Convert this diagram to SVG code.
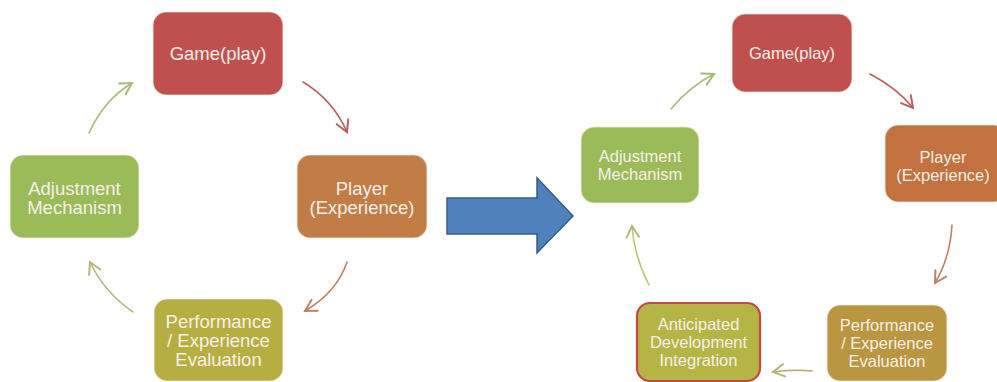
<svg xmlns="http://www.w3.org/2000/svg" width="997" height="382" viewBox="0 0 997 382">
<style>
.box{stroke:#f4efe6;stroke-width:1.2;stroke-opacity:0.7}
.t{font-family:"Liberation Sans",Arial,sans-serif;fill:#f6efe9;text-anchor:middle}
.tl{font-size:18.5px}
.tr{font-size:16.5px}
.c{fill:none;stroke-width:1.6;stroke-linecap:round}
</style>
<defs>
<marker id="mr" markerUnits="userSpaceOnUse" markerWidth="20" markerHeight="20" refX="0" refY="0" viewBox="-12 -8 14 16" orient="auto"><path d="M-9,-5 L0,0 L-9,5" fill="none" stroke="#b8625e" stroke-width="1.6" stroke-linecap="round"/></marker>
<marker id="mb" markerUnits="userSpaceOnUse" markerWidth="20" markerHeight="20" refX="0" refY="0" viewBox="-12 -8 14 16" orient="auto"><path d="M-9,-5 L0,0 L-9,5" fill="none" stroke="#b98468" stroke-width="1.6" stroke-linecap="round"/></marker>
<marker id="mo" markerUnits="userSpaceOnUse" markerWidth="20" markerHeight="20" refX="0" refY="0" viewBox="-12 -8 14 16" orient="auto"><path d="M-9,-5 L0,0 L-9,5" fill="none" stroke="#b8b37a" stroke-width="1.6" stroke-linecap="round"/></marker>
<marker id="mg" markerUnits="userSpaceOnUse" markerWidth="20" markerHeight="20" refX="0" refY="0" viewBox="-12 -8 14 16" orient="auto"><path d="M-9,-5 L0,0 L-9,5" fill="none" stroke="#a5bd78" stroke-width="1.6" stroke-linecap="round"/></marker>
</defs>
<rect width="997" height="382" fill="#ffffff"/>

<g id="connectors">
<path class="c" stroke="#b8625e" marker-end="url(#mr)" d="M303,82 Q333,100 347,132"/>
<path class="c" stroke="#b98468" marker-end="url(#mb)" d="M347,262 Q337,292 305,311"/>
<path class="c" stroke="#b8b37a" marker-end="url(#mo)" d="M133,312 Q104,292 90,262"/>
<path class="c" stroke="#a5bd78" marker-end="url(#mg)" d="M89,133 Q104,100 132,83"/>
<path class="c" stroke="#a5bd78" marker-end="url(#mg)" d="M671,109 Q690,86 714,74"/>
<path class="c" stroke="#b8625e" marker-end="url(#mr)" d="M870,74 Q897,88 913,108"/>
<path class="c" stroke="#b98468" marker-end="url(#mb)" d="M952,225 Q950,258 935,283"/>
<path class="c" stroke="#b9a470" marker-end="url(#mo)" d="M812,371 Q792,369 773,372"/>
<path class="c" stroke="#c2c27a" marker-end="url(#mo)" d="M649,285 Q634,256 632,226"/>
</g>

<g id="bigarrow">
<polygon points="447,198 537,198 537,178 573,216 537,253 537,234 447,234" fill="#4f81bd" stroke="#385d8a" stroke-width="1.5"/>
</g>

<g id="l-game">
<rect class="box" x="153" y="12" width="130" height="83" rx="13" fill="#c0504d"/>
<text class="t tl" x="218" y="60">Game(play)</text>
</g>
<g id="l-player">
<rect class="box" x="297" y="155" width="130" height="83" rx="13" fill="#c27d47"/>
<text class="t tl" x="362" y="194.5">Player</text>
<text class="t tl" x="362" y="213.5">(Experience)</text>
</g>
<g id="l-adjust">
<rect class="box" x="10" y="155" width="129" height="83" rx="13" fill="#9bbb59"/>
<text class="t tl" x="74.5" y="194.5">Adjustment</text>
<text class="t tl" x="74.5" y="213.5">Mechanism</text>
</g>
<g id="l-perf">
<rect class="box" x="154" y="299" width="129" height="82" rx="13" fill="#b6ae40"/>
<text class="t tl" x="218.5" y="327.5">Performance</text>
<text class="t tl" x="218.5" y="346.5">/ Experience</text>
<text class="t tl" x="218.5" y="365.5">Evaluation</text>
</g>

<g id="r-game">
<rect class="box" x="732" y="14" width="120" height="78" rx="13" fill="#c0504d"/>
<text class="t tr" x="792" y="59">Game(play)</text>
</g>
<g id="r-adjust">
<rect class="box" x="581" y="127" width="118" height="76" rx="13" fill="#9bbb59"/>
<text class="t tr" x="640" y="162">Adjustment</text>
<text class="t tr" x="640" y="180">Mechanism</text>
</g>
<g id="r-player">
<rect class="box" x="885" y="125" width="122" height="77" rx="13" fill="#c3713f"/>
<text class="t tr" x="943" y="163">Player</text>
<text class="t tr" x="943" y="181">(Experience)</text>
</g>
<g id="r-perf">
<rect class="box" x="827" y="305" width="120" height="76" rx="13" fill="#b9963f"/>
<text class="t tr" x="887" y="331">Performance</text>
<text class="t tr" x="887" y="349">/ Experience</text>
<text class="t tr" x="887" y="367">Evaluation</text>
</g>
<g id="r-anticipated">
<rect x="637" y="303" width="123" height="78" rx="13" fill="#b4b545" stroke="#c24a44" stroke-width="2.2"/>
<text class="t tr" x="698.5" y="330">Anticipated</text>
<text class="t tr" x="698.5" y="348">Development</text>
<text class="t tr" x="698.5" y="366">Integration</text>
</g>
</svg>
